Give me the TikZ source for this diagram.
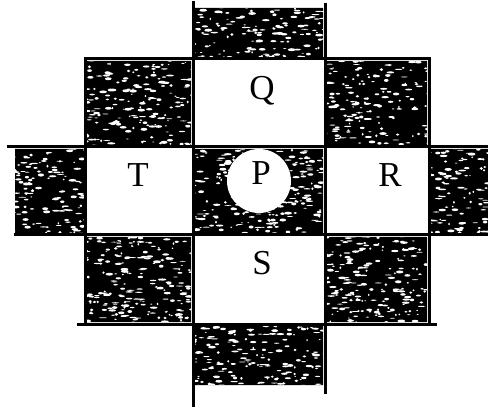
\documentclass[tikz,border=0pt]{standalone}
\usepackage{fontspec}
\setmainfont{Liberation Serif}
\tikzset{
  gridln/.style={line width=3pt,line cap=rect},
  speck/.style={fill=white},
  lbl/.style={font=\fontsize{35}{40}\selectfont,anchor=base,inner sep=0pt}
}
\begin{document}
\begin{tikzpicture}[x=1pt,y=-1pt]
  \useasboundingbox (0,0) rectangle (488,409);
  % shaded fields
  \begin{scope}
    \clip (195,8) rectangle (323,57)
      (87,61) rectangle (191,145) (327,61) rectangle (427,145)
      (15,149) rectangle (84,233) (195,149) rectangle (323,233)
      (431,149) rectangle (488,233)
      (87,237) rectangle (191,322) (327,237) rectangle (427,322)
      (195,326) rectangle (323,385);
    \fill[black] (0,0) rectangle (488,409);
    \pgfmathsetseed{42}
    \foreach \i in {1,...,4000}
      \fill[speck] ({rnd*488},{rnd*409})
        ellipse [x radius={(0.8+rnd*3.2)*1pt}, y radius={(0.4+rnd*1.1)*1pt}];
    \fill[white] (259,181) circle [radius=32pt];
  \end{scope}
  % grid
  \draw[gridln] (85,59) -- (429,59);
  \draw[gridln] (8,147) -- (488,147);
  \draw[gridln] (15,235) -- (488,235);
  \draw[gridln] (78,324) -- (435,324);
  \draw[gridln] (193,3) -- (193,405);
  \draw[gridln] (325,5) -- (325,392);
  \draw[gridln] (85,59) -- (85,324);
  \draw[gridln] (429,59) -- (429,324);
  % labels
  \node[lbl] (Q) at (262,100) {Q};
  \node[lbl] (T) at (138,187) {T};
  \node[lbl] (P) at (261,185) {P};
  \node[lbl] (R) at (390,187) {R};
  \node[lbl] (S) at (262,275) {S};
\end{tikzpicture}
\end{document}
